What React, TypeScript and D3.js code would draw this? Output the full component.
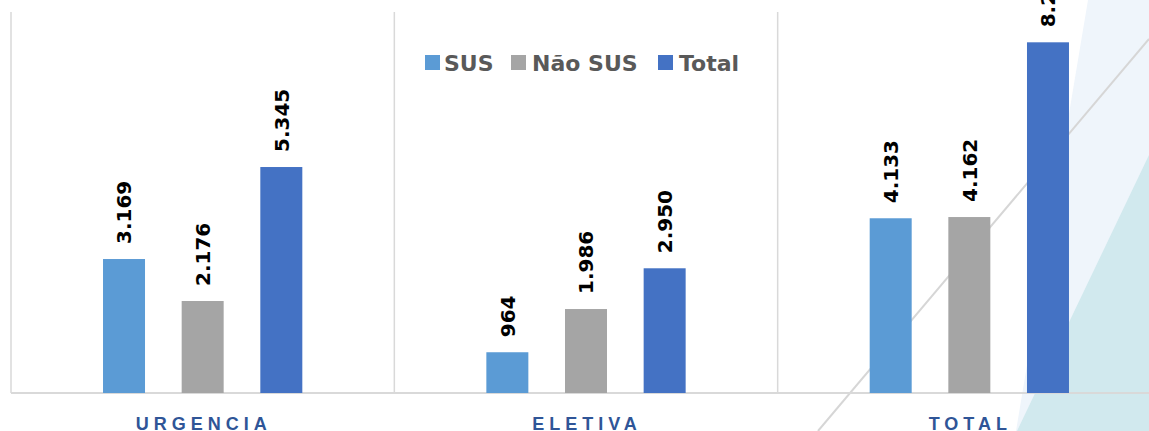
import React from "react";
import * as d3 from "d3";

const categories = ["URGENCIA", "ELETIVA", "TOTAL"];
const seriesNames = ["SUS", "Não SUS", "Total"];
const susValues = [3169, 964, 4133];
const naoSusValues = [2176, 1986, 4162];
const totalValues = [5345, 2950, 8295];
const seriesColors = ["#5B9BD5", "#A5A5A5", "#4472C4"];

const W = 1149;
const H = 431;

const fmt = (v: number) => d3.format(",")(v).replace(/,/g, ".");

export default function App() {
  const series = [susValues, naoSusValues, totalValues];
  const x0 = d3.scaleBand<string>().domain(categories).range([11, 1161]).paddingInner(0).paddingOuter(0);
  const x1 = d3.scaleBand<string>().domain(seriesNames).range([0, x0.bandwidth()]).paddingInner(0.466).paddingOuter(1.17);
  const y = d3.scaleLinear().domain([0, 9000]).range([393, 12.5]);
  const baseY = y(0);

  return (
    <div style={{ position: "absolute", left: 0, top: 0 }}>
      <svg width={W} height={H} style={{ display: "block", background: "#fff" }}>
        {/* background decoration */}
        <polygon points="1088,0 1149,0 1149,431 1016,431" fill="#EFF5FB" />
        <polygon points="1149,155 1149,431 1017,431" fill="#D1E9EE" />
        <line x1={818} y1={431} x2={1149} y2={39} stroke="#D6D6D6" strokeWidth={2} />

        {/* separators */}
        {categories.map((c, i) => (
          <line key={"sep" + i} x1={x0(c)!} x2={x0(c)!} y1={12} y2={baseY} stroke="#D9D9D9" strokeWidth={1.5} />
        ))}
        <line x1={11} x2={W} y1={baseY} y2={baseY} stroke="#D9D9D9" strokeWidth={2} />

        {/* bars */}
        {categories.map((c, ci) =>
          seriesNames.map((s, si) => {
            const v = series[si][ci];
            const bx = x0(c)! + x1(s)!;
            const top = y(v);
            return (
              <g key={c + s}>
                <rect x={bx} y={top} width={x1.bandwidth()} height={baseY - top} fill={seriesColors[si]} />
                <text
                  transform={`translate(${bx + x1.bandwidth() / 2},${top - 15}) rotate(-90)`}
                  dy="0.36em"
                  textAnchor="start"
                  fontFamily="'DejaVu Sans', sans-serif"
                  fontWeight="bold"
                  fontSize={20}
                  fill="#000"
                >
                  {fmt(v)}
                </text>
              </g>
            );
          })
        )}

        {/* category labels */}
        {categories.map((c) => (
          <text
            key={"cat" + c}
            x={x0(c)! + x0.bandwidth() / 2 + 1}
            y={429.5}
            textAnchor="middle"
            fontFamily="'Liberation Sans', Arial, sans-serif"
            fontWeight="bold"
            fontSize={18}
            letterSpacing={5}
            fill="#2F5597"
          >
            {c}
          </text>
        ))}

        {/* legend */}
        {[
          { name: "SUS", sx: 425, tx: 444 },
          { name: "Não SUS", sx: 511, tx: 532 },
          { name: "Total", sx: 658, tx: 679 },
        ].map((l, i) => (
          <g key={"leg" + i}>
            <rect x={l.sx} y={55} width={15} height={15} fill={seriesColors[i]} />
            <text
              x={l.tx}
              y={71}
              fontFamily="'DejaVu Sans', sans-serif"
              fontWeight="bold"
              fontSize={22}
              fill="#595959"
            >
              {l.name}
            </text>
          </g>
        ))}
      </svg>
    </div>
  );
}
